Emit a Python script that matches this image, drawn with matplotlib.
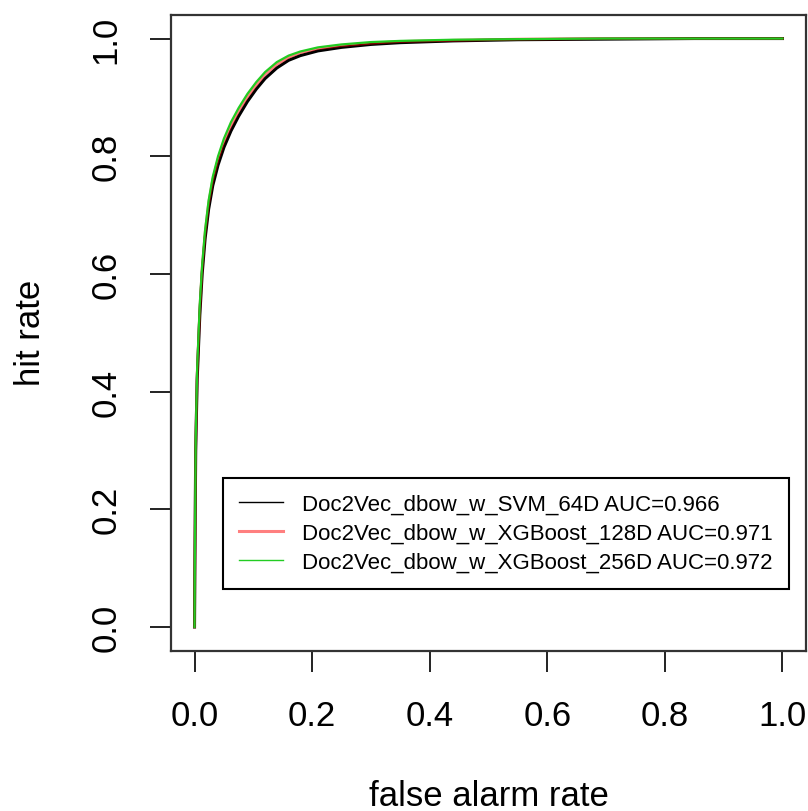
import matplotlib
matplotlib.use("Agg")
import matplotlib.pyplot as plt
from matplotlib.lines import Line2D

plt.rcParams['font.family'] = ['Liberation Sans', 'DejaVu Sans']

# ROC curve data (false alarm rate, hit rate)
fpr = [0, 0.0005, 0.002, 0.0045, 0.009, 0.013, 0.018, 0.024, 0.031, 0.040, 0.050,
       0.062, 0.075, 0.090, 0.105, 0.12, 0.14, 0.16, 0.18, 0.21, 0.25, 0.30, 0.35,
       0.44, 0.55, 0.7, 0.85, 1.0]
tpr_svm64 = [0, 0.09, 0.30, 0.42, 0.53, 0.60, 0.66, 0.71, 0.75, 0.785, 0.815,
             0.843, 0.868, 0.893, 0.914, 0.932, 0.950, 0.963, 0.971, 0.979, 0.985, 0.99, 0.993,
             0.996, 0.998, 0.999, 1.0, 1.0]
tpr_xgb128 = [0, 0.095, 0.31, 0.43, 0.54, 0.61, 0.67, 0.72, 0.76, 0.795, 0.825,
              0.852, 0.877, 0.901, 0.921, 0.939, 0.956, 0.968, 0.976, 0.983, 0.988, 0.992, 0.995,
              0.997, 0.999, 1.0, 1.0, 1.0]
tpr_xgb256 = [0, 0.10, 0.32, 0.44, 0.55, 0.615, 0.675, 0.725, 0.765, 0.80, 0.83,
              0.858, 0.882, 0.906, 0.926, 0.943, 0.960, 0.971, 0.978, 0.985, 0.99, 0.994, 0.996,
              0.998, 0.999, 1.0, 1.0, 1.0]

labels = ["Doc2Vec_dbow_w_SVM_64D AUC=0.966",
          "Doc2Vec_dbow_w_XGBoost_128D AUC=0.971",
          "Doc2Vec_dbow_w_XGBoost_256D AUC=0.972"]
ticks = [0.0, 0.2, 0.4, 0.6, 0.8, 1.0]
tick_labels = ["0.0", "0.2", "0.4", "0.6", "0.8", "1.0"]

W, H = 808, 812
fig = plt.figure(figsize=(W / 100, H / 100), dpi=100)
ax = fig.add_axes([171 / W, (H - 651.5) / H, (806 - 171) / W, (651.5 - 16) / H])

ax.plot(fpr, tpr_svm64, color='black', lw=2.2)
ax.plot(fpr, tpr_xgb128, color='#FF0000', alpha=0.5, lw=2.0)
ax.plot(fpr, tpr_xgb256, color='#22CC22', lw=1.6)

ax.set_xlim(-0.04, 1.04)
ax.set_ylim(-0.04, 1.04)
ax.set_xticks(ticks)
ax.set_xticklabels(tick_labels)
ax.set_yticks(ticks)
ax.set_yticklabels(tick_labels, rotation=90, va='center')
ax.tick_params(direction='out', length=15, width=1.4, pad=20, labelsize=25,
               color='#222222', labelcolor='black')
for s in ax.spines.values():
    s.set_color('#333333')
    s.set_linewidth(1.6)

fig.text(489 / W, 1 - 797 / H, "false alarm rate", ha='center', va='center', fontsize=25)
fig.text(30 / W, 1 - 333 / H, "hit rate", ha='center', va='center', rotation=90, fontsize=25)

handles = [Line2D([], [], color='black', lw=1.0),
           Line2D([], [], color='#FF0000', alpha=0.5, lw=2.2),
           Line2D([], [], color='#22CC22', lw=1.0)]
leg = ax.legend(handles, labels, loc='upper left',
                bbox_to_anchor=(223 / W, 1 - 479 / H), bbox_transform=fig.transFigure,
                borderaxespad=0, fontsize=16, labelspacing=0.36, handlelength=2.0,
                handletextpad=0.85, borderpad=0.72, fancybox=False, framealpha=1,
                edgecolor='black')
leg.get_frame().set_linewidth(1.5)

fig.savefig("out.png", dpi=100)
